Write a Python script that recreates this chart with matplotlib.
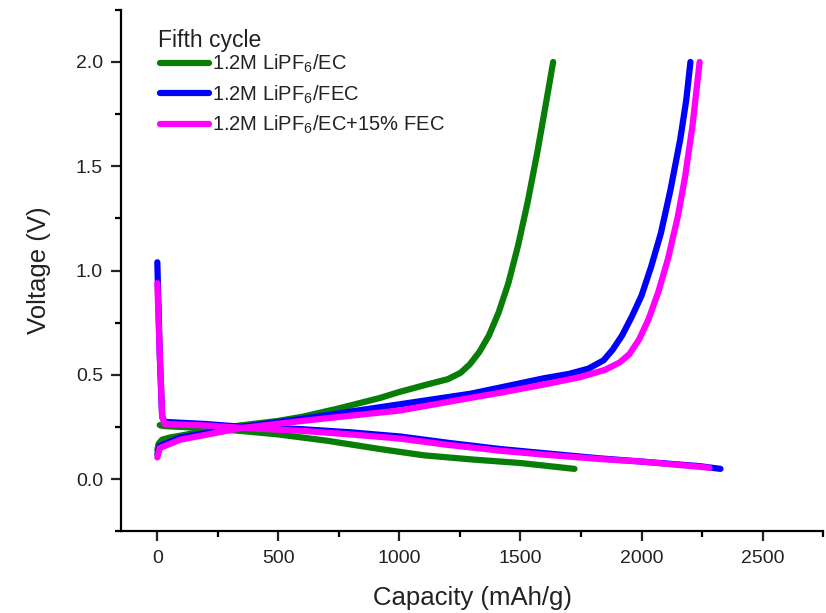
import matplotlib
matplotlib.use("Agg")
import matplotlib.pyplot as plt
from matplotlib.ticker import MultipleLocator, FormatStrFormatter

plt.rcParams["font.family"] = ["Liberation Sans", "DejaVu Sans"]
plt.rcParams["mathtext.default"] = "regular"

# charge (delithiation) curves
ec_chg_x = [0, 5, 20, 50, 100, 200, 343, 500, 600, 750, 920, 1004, 1100, 1200, 1252, 1290, 1330,
            1370, 1410, 1450, 1490, 1530, 1570, 1605, 1635]
ec_chg_y = [0.14, 0.17, 0.19, 0.20, 0.21, 0.232, 0.258, 0.28, 0.30, 0.34, 0.39, 0.42, 0.45, 0.48,
            0.51, 0.55, 0.61, 0.69, 0.80, 0.94, 1.12, 1.33, 1.57, 1.80, 2.0]
fec_chg_x = [0, 10, 95, 343, 600, 800, 1004, 1293, 1417, 1600, 1700, 1780, 1843, 1880, 1920, 1960,
             2000, 2040, 2080, 2120, 2160, 2185, 2202]
fec_chg_y = [0.12, 0.16, 0.20, 0.25, 0.29, 0.325, 0.36, 0.41, 0.44, 0.485, 0.505, 0.53, 0.57, 0.62,
             0.69, 0.78, 0.88, 1.02, 1.18, 1.39, 1.63, 1.82, 2.0]
mix_chg_x = [0, 10, 95, 343, 600, 800, 1004, 1293, 1417, 1600, 1748, 1850, 1910, 1950, 1990, 2030,
             2070, 2110, 2150, 2180, 2210, 2240]
mix_chg_y = [0.105, 0.15, 0.19, 0.245, 0.28, 0.305, 0.33, 0.39, 0.415, 0.455, 0.49, 0.525, 0.56,
             0.60, 0.67, 0.77, 0.90, 1.06, 1.26, 1.45, 1.69, 2.0]

# discharge (lithiation) curves
ec_dis_x = [10, 15, 30, 200, 343, 500, 700, 920, 1100, 1300, 1500, 1723]
ec_dis_y = [0.26, 0.258, 0.255, 0.245, 0.232, 0.215, 0.185, 0.145, 0.115, 0.095, 0.078, 0.05]
fec_dis_x = [0, 10, 20, 30, 200, 343, 600, 800, 1004, 1200, 1417, 1600, 1831, 2000, 2240, 2326]
fec_dis_y = [1.04, 0.6, 0.30, 0.275, 0.265, 0.252, 0.24, 0.225, 0.205, 0.175, 0.145, 0.125, 0.10,
             0.085, 0.063, 0.05]
mix_dis_x = [0, 10, 20, 30, 200, 343, 600, 800, 1004, 1200, 1417, 1600, 1831, 2000, 2240, 2280]
mix_dis_y = [0.94, 0.6, 0.30, 0.265, 0.258, 0.247, 0.232, 0.215, 0.195, 0.165, 0.137, 0.118, 0.097,
             0.085, 0.06, 0.055]

labels = ["1.2M LiPF$_6$/EC", "1.2M LiPF$_6$/FEC", "1.2M LiPF$_6$/EC+15% FEC"]
colors = ["#087d08", "#0000ff", "#ff00ff"]

fig = plt.figure(figsize=(8.26, 6.13), dpi=100)
ax = fig.add_axes([0.1465, 0.133, 0.85, 0.851])

series = [(ec_dis_x, ec_dis_y, ec_chg_x, ec_chg_y),
          (fec_dis_x, fec_dis_y, fec_chg_x, fec_chg_y),
          (mix_dis_x, mix_dis_y, mix_chg_x, mix_chg_y)]
for i, (dx, dy, cx, cy) in enumerate(series):
    ax.plot(dx, dy, color=colors[i], lw=4.5, solid_capstyle="round", solid_joinstyle="round")
    ax.plot(cx, cy, color=colors[i], lw=4.5, solid_capstyle="round", solid_joinstyle="round",
            label=labels[i])

ax.set_xlim(-150, 2750)
ax.set_ylim(-0.25, 2.25)
ax.xaxis.set_major_locator(MultipleLocator(500))
ax.xaxis.set_minor_locator(MultipleLocator(250))
ax.yaxis.set_major_locator(MultipleLocator(0.5))
ax.yaxis.set_minor_locator(MultipleLocator(0.25))
ax.yaxis.set_major_formatter(FormatStrFormatter("%.1f"))

ax.spines["top"].set_visible(False)
ax.spines["right"].set_visible(False)
ax.spines["left"].set_linewidth(1.6)
ax.spines["bottom"].set_linewidth(1.6)
ax.tick_params(axis="both", which="major", direction="out", length=7, width=1.6,
               labelsize=14, pad=6, colors="#222222")
ax.tick_params(axis="both", which="minor", direction="out", length=4, width=1.6)

ax.set_xlabel("Capacity (mAh/g)", fontsize=18.5, color="#222222", labelpad=14)
ax.set_ylabel("Voltage (V)", fontsize=18.5, color="#222222", labelpad=18)

ax.text(0.053, 0.942, "Fifth cycle", transform=ax.transAxes, fontsize=16.5,
        color="#222222", ha="left", va="center")
leg = ax.legend(loc="upper left", bbox_to_anchor=(0.03, 0.952), frameon=False,
                fontsize=14.5, handlelength=2.4, handletextpad=0.15, labelspacing=0.4)
for t in leg.get_texts():
    t.set_color("#222222")

fig.savefig("out.png", dpi=100)
